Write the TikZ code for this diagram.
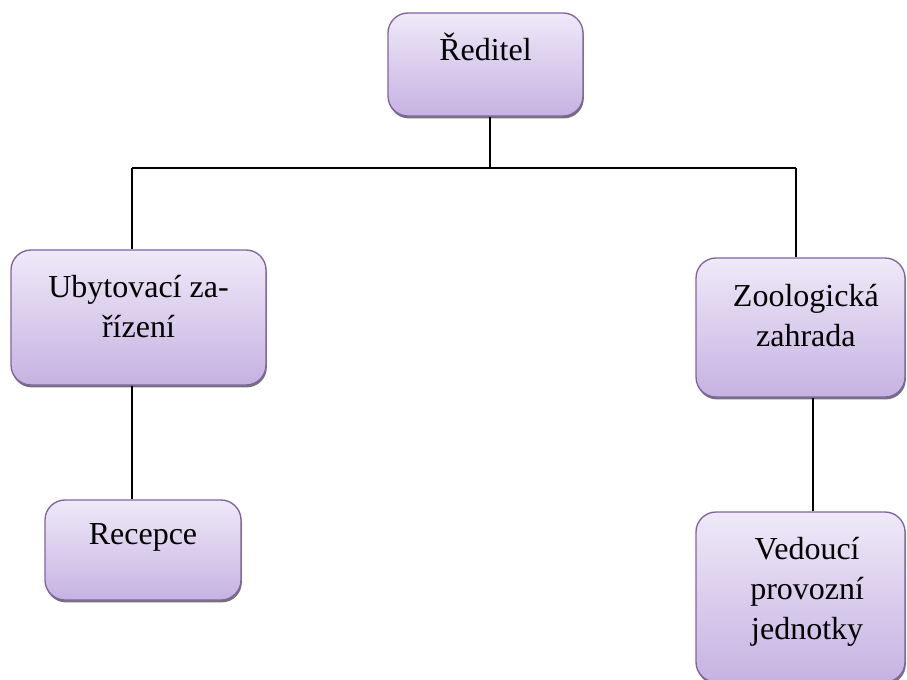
\documentclass[tikz,border=0pt]{standalone}
\usepackage{fontspec}
\setmainfont{Liberation Serif}
\usetikzlibrary{positioning, shadows}

\definecolor{boxedge}{HTML}{8064A2}
\definecolor{boxtop}{HTML}{EFE9F8}
\definecolor{boxbottom}{HTML}{C6B2E2}

\tikzset{
  unit/.style={draw=boxedge, line width=1pt, rounded corners=15pt,
    top color=boxtop, bottom color=boxbottom,
    drop shadow={shadow xshift=0.6pt, shadow yshift=-1.8pt, fill=black!55, opacity=1}},
  unitlabel/.style={anchor=base, align=center, inner sep=0pt,
    font=\fontsize{24}{30}\selectfont},
  link/.style={line width=1.1pt}
}

\begin{document}
\begin{tikzpicture}[x=0.75pt, y=-0.75pt]
    \useasboundingbox (0,0) rectangle (907,679);

    % Boxes
    \node[unit, minimum width=146.25pt, minimum height=77.25pt] (dir) at (485.5,64.5) {};
    \node[unit, minimum width=191.25pt, minimum height=101.25pt] (ubyt) at (138.5,317.5) {};
    \node[unit, minimum width=156.75pt, minimum height=104.25pt] (zoo) at (800.5,327.5) {};
    \node[unit, minimum width=147pt, minimum height=75pt] (rec) at (143,550) {};
    \node[unit, minimum width=156.75pt, minimum height=127.5pt] (ved) at (800.5,597) {};

    % Labels (base = last line)
    \node[unitlabel] (dirtext) at ([yshift=-36pt]dir.north) {Ředitel};
    \node[unitlabel] (ubyttext) at ([yshift=-66pt]ubyt.north) {Ubytovací za-\\řízení};
    \node[unitlabel] (zootext) at ([xshift=4pt, yshift=-66.5pt]zoo.north) {Zoologická\\zahrada};
    \node[unitlabel] (rectext) at ([yshift=-34pt]rec.north) {Recepce};
    \node[unitlabel] (vedtext) at ([xshift=5pt, yshift=-96pt]ved.north) {Vedoucí\\provozní\\jednotky};

    % Connectors
    \coordinate (busL) at (132,168);
    \coordinate (busR) at (796,168);
    \coordinate (stemR) at (813,0);
    \draw[link] ([xshift=3.5pt]dir.south) -- ([xshift=3.5pt]dir.south |- busL);
    \draw[link] (busL) -- (busR);
    \draw[link] (busL) -- (busL |- ubyt.north);
    \draw[link] (busR) -- (busR |- zoo.north);
    \draw[link] (ubyt.south -| busL) -- (rec.north -| busL);
    \draw[link] (zoo.south -| stemR) -- (ved.north -| stemR);
\end{tikzpicture}
\end{document}
